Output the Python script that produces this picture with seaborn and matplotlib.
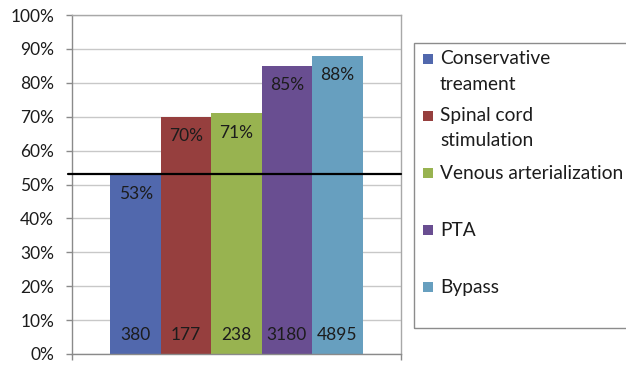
import matplotlib
matplotlib.use("Agg")
import matplotlib.pyplot as plt
from matplotlib.patches import Rectangle
import seaborn as sns
import pandas as pd

# Treatment groups, success rates (%) and number of patients per group
treatments = ["Conservative treament", "Spinal cord stimulation",
              "Venous arterialization", "PTA", "Bypass"]
legend_labels = ["Conservative\ntreament", "Spinal cord\nstimulation",
                 "Venous arterialization", "PTA", "Bypass"]
success_pct = [53, 70, 71, 85, 88]
patients = [380, 177, 238, 3180, 4895]
reference_pct = 53
y_ticks = [0, 10, 20, 30, 40, 50, 60, 70, 80, 90, 100]
colors = ["#5168ad", "#963f3e", "#98b350", "#694e91", "#679fbf"]

df = pd.DataFrame({"group": [""] * len(treatments),
                   "treatment": treatments,
                   "pct": success_pct})

sns.set_style("white")
plt.rcParams["font.family"] = ["Lato", "DejaVu Sans"]
FS_TICK = 12.5
FS_LABEL = 12.5
FS_LEGEND = 13.8
TXT = "#1c1c1c"
W, H = 626, 365

fig = plt.figure(figsize=(W / 100, H / 100), dpi=100)
ax = fig.add_axes([72 / W, 11 / H, 329 / W, 339 / H])

sns.barplot(data=df, x="group", y="pct", hue="treatment", hue_order=treatments,
            palette=colors, width=0.766, saturation=1, linewidth=0,
            errorbar=None, legend=False, ax=ax)

ax.set_xlim(-0.5, 0.5)
ax.set_ylim(0, 100)
ax.set_yticks(y_ticks)
ax.set_yticklabels([f"{v}%" for v in y_ticks], fontsize=FS_TICK, color=TXT)
ax.set_xticks([-0.5, 0.5])
ax.set_xticklabels(["", ""])
ax.set_xlabel("")
ax.set_ylabel("")
ax.set_axisbelow(True)
ax.yaxis.grid(True, color="#c8c8c8", lw=1)
ax.tick_params(axis="both", direction="out", length=4.3, width=1, color="#8a8a8a",
               left=True, bottom=True)
ax.tick_params(axis="y", pad=8.5)
for side in ["left", "bottom", "right", "top"]:
    ax.spines[side].set_visible(True)
    ax.spines[side].set_color("#a8a8a8" if side in ("right", "top") else "#8a8a8a")
    ax.spines[side].set_linewidth(1)

# Reference line at the conservative-treatment rate
ax.axhline(reference_pct, xmin=-0.013, xmax=1, color="black", lw=1.6,
           clip_on=False, zorder=5)

# Value labels: percentage near the top, patient count near the base
for container, pct, n in zip(ax.containers, success_pct, patients):
    bar = container.patches[0]
    cx = bar.get_x() + bar.get_width() / 2
    ax.annotate(f"{pct}%", (cx, bar.get_height()), xytext=(0, -14),
                textcoords="offset points", ha="center", va="center",
                fontsize=FS_LABEL, color=TXT, zorder=6)
    ax.annotate(f"{n}", (cx, 0), xytext=(0, 14),
                textcoords="offset points", ha="center", va="center",
                fontsize=FS_LABEL, color=TXT, zorder=6)

# Legend box on the right
fig.patches.append(Rectangle((414 / W, (H - 328) / H), 220 / W, 285 / H,
                             transform=fig.transFigure, fill=False,
                             edgecolor="#8c8c8c", lw=1))
for i, (label, c) in enumerate(zip(legend_labels, colors)):
    y0 = 59 + i * 57
    fig.patches.append(Rectangle((423 / W, (H - y0 - 5) / H), 10 / W, 10 / H,
                                 transform=fig.transFigure, facecolor=c,
                                 edgecolor="none"))
    for j, line in enumerate(label.split("\n")):
        fig.text(440 / W, (H - y0 - j * 25) / H, line, fontsize=FS_LEGEND,
                 ha="left", va="center", color=TXT)

fig.savefig("out.png", dpi=100)
